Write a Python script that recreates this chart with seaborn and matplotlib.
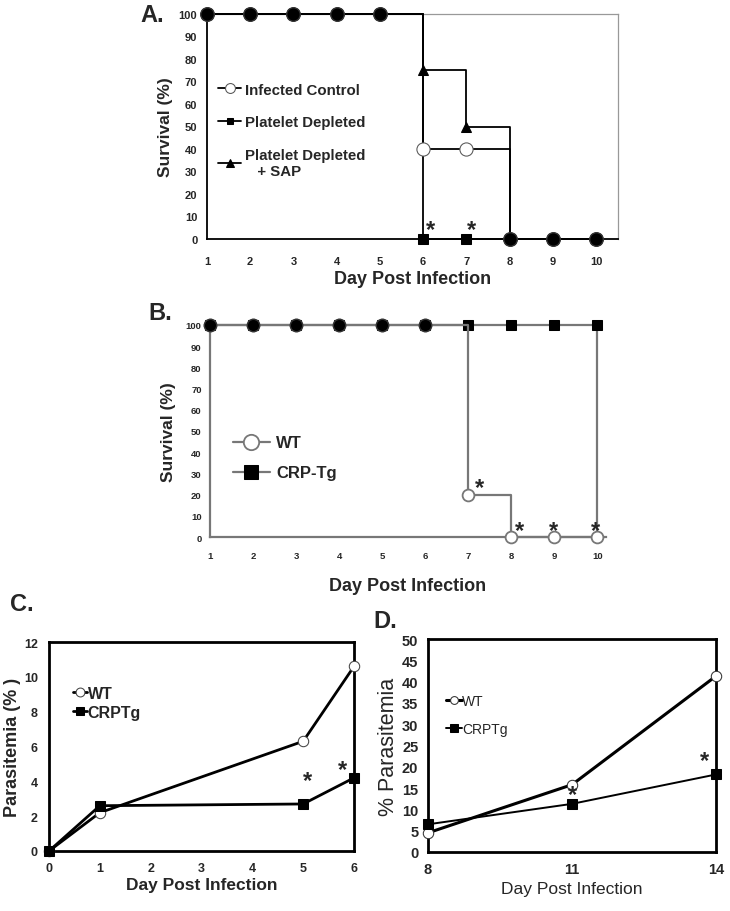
import matplotlib
matplotlib.use("Agg")
import matplotlib.pyplot as plt
import numpy as np
import pandas as pd
import seaborn as sns

sns.set_theme(style="white")
plt.rcParams['font.family'] = ['Liberation Sans', 'DejaVu Sans']

# Panel A: survival after platelet depletion
days_a = [1, 2, 3, 4, 5, 6, 7, 8, 9, 10]
infected_control = [100, 100, 100, 100, 100, 40, 40, 0, 0, 0]
platelet_depleted = [100, 100, 100, 100, 100, 0, 0, 0, 0, 0]
platelet_sap = [100, 100, 100, 100, 100, 75, 50, 0, 0, 0]
stars_a_x = [6.16, 7.13]
stars_a_y = [5.8, 5.8]

# Panel B: survival WT vs CRP-Tg
days_b = [1, 2, 3, 4, 5, 6, 7, 8, 9, 10]
wt_b = [100, 100, 100, 100, 100, 100, 20, 0, 0, 0]
crp_tg_b = [100, 100, 100, 100, 100, 100, 100, 100, 100, 100]
stars_b_x = [7.26, 8.2, 8.98, 9.95]
stars_b_y = [25, 5, 5, 5]

# Panel C: parasitemia early
days_c = [0, 1, 5, 6]
wt_c = [0, 2.2, 6.3, 10.6]
crptg_c = [0, 2.6, 2.7, 4.2]
stars_c_x = [5.08, 5.77]
stars_c_y = [4.25, 4.9]

# Panel D: parasitemia late
days_d = [8, 11, 14]
wt_d = [4.5, 15.8, 41.3]
crptg_d = [6.5, 11.3, 18.2]
stars_d_x = [11.0, 13.77]
stars_d_y = [14.3, 22.3]

fig = plt.figure(figsize=(7.3, 9.12), dpi=100)
fig.patch.set_facecolor('white')


def overlap_mask(base, *others):
    base = np.asarray(base)
    m = np.ones(len(base), dtype=bool)
    for o in others:
        m &= (np.asarray(o) == base)
    return m


def add_stars(ax, xs, ys):
    # star glyph sits high in its box, so pull it down to centre on (x, y)
    for x, y in zip(xs, ys):
        ax.annotate('*', (x, y), xytext=(0, -11), textcoords='offset points',
                    fontsize=17, fontweight='bold', ha='center', va='bottom')


# ---------------- Panel A ----------------
axA = fig.add_axes([207 / 730, 1 - 240 / 912, 411 / 730, 225 / 912])
dfA = pd.DataFrame({'day': days_a, 'ic': infected_control, 'pd': platelet_depleted, 'sap': platelet_sap})
sns.lineplot(data=dfA, x='day', y='pd', ax=axA, color='black', lw=1.3, drawstyle='steps-post',
             marker='s', markersize=6.5, markerfacecolor='black', markeredgecolor='black',
             clip_on=False, zorder=3, label='Platelet Depleted')
sns.lineplot(data=dfA, x='day', y='sap', ax=axA, color='black', lw=1.3, drawstyle='steps-post',
             marker='^', markersize=7, markerfacecolor='black', markeredgecolor='black',
             clip_on=False, zorder=3, label='Platelet Depleted\n   + SAP')
sns.lineplot(data=dfA, x='day', y='ic', ax=axA, color='black', lw=1.3, drawstyle='steps-post',
             marker='o', markersize=9.5, markerfacecolor='white', markeredgecolor='#555555',
             clip_on=False, zorder=4, label='Infected Control')
mA = overlap_mask(infected_control, platelet_depleted, platelet_sap)
axA.scatter(np.array(days_a)[mA], np.array(infected_control)[mA], s=95, color='black',
            edgecolor='#333333', zorder=5, clip_on=False)
add_stars(axA, stars_a_x, stars_a_y)
axA.set_xlim(1, 10.51)
axA.set_ylim(0, 100)
axA.set_xticks(days_a)
axA.set_yticks(range(0, 101, 10))
axA.tick_params(labelsize=8, length=3, width=1, direction='out', color='black', pad=4)
for lab in axA.get_xticklabels() + axA.get_yticklabels():
    lab.set_fontweight('bold')
axA.tick_params(axis='x', pad=9)
for s in ['left', 'bottom']:
    axA.spines[s].set_color('black')
    axA.spines[s].set_linewidth(1.3)
for s in ['top', 'right']:
    axA.spines[s].set_color('#999999')
    axA.spines[s].set_linewidth(0.9)
axA.set_xlabel('Day Post Infection', fontsize=13, fontweight='bold', labelpad=3)
axA.set_ylabel('Survival (%)', fontsize=12.5, fontweight='bold', labelpad=4)
h, l = axA.get_legend_handles_labels()
order = [l.index('Infected Control'), l.index('Platelet Depleted'), l.index('Platelet Depleted\n   + SAP')]
axA.legend([h[i] for i in order], [l[i] for i in order], loc='upper left', bbox_to_anchor=(-0.005, 0.755),
           frameon=False, prop={'weight': 'bold', 'size': 10.8}, handlelength=1.5, handletextpad=0.3,
           labelspacing=1.25, markerscale=0.75)
fig.text(140 / 730, 1 - 15 / 912, 'A.', fontsize=17, fontweight='bold', va='center', ha='left')

# ---------------- Panel B ----------------
gray = '#777777'
axB = fig.add_axes([210 / 730, 1 - 538 / 912, 396 / 730, 212 / 912])
dfB = pd.DataFrame({'day': days_b, 'wt': wt_b, 'crp': crp_tg_b})
sns.lineplot(data=dfB, x='day', y='crp', ax=axB, color=gray, lw=1.6, drawstyle='steps-post',
             marker='s', markersize=7.5, markerfacecolor='black', markeredgecolor='black',
             clip_on=False, zorder=3, label='CRP-Tg')
axB.vlines(days_b[-1], 0, crp_tg_b[-1], color=gray, lw=1.6, zorder=2)
sns.lineplot(data=dfB, x='day', y='wt', ax=axB, color=gray, lw=1.6, drawstyle='steps-post',
             marker='o', markersize=8.5, markerfacecolor='white', markeredgecolor=gray,
             markeredgewidth=1.3, clip_on=False, zorder=4, label='WT')
mB = overlap_mask(wt_b, crp_tg_b)
axB.scatter(np.array(days_b)[mB], np.array(wt_b)[mB], s=80, color='black',
            edgecolor='#333333', zorder=5, clip_on=False)
add_stars(axB, stars_b_x, stars_b_y)
axB.set_xlim(1, 10.2)
axB.set_ylim(0, 100)
axB.set_xticks(days_b)
axB.set_yticks(range(0, 101, 10))
axB.tick_params(labelsize=6.8, length=3, width=1, direction='out', color=gray, pad=3)
axB.tick_params(axis='x', pad=7)
for lab in axB.get_xticklabels() + axB.get_yticklabels():
    lab.set_fontweight('bold')
for s in ['left', 'bottom']:
    axB.spines[s].set_color(gray)
    axB.spines[s].set_linewidth(1.6)
for s in ['top', 'right']:
    axB.spines[s].set_visible(False)
axB.set_xlabel('Day Post Infection', fontsize=13, fontweight='bold', labelpad=12)
axB.set_ylabel('Survival (%)', fontsize=12.5, fontweight='bold', labelpad=7)
h, l = axB.get_legend_handles_labels()
axB.legend([h[1], h[0]], [l[1], l[0]], loc='upper left', bbox_to_anchor=(0.02, 0.55),
           frameon=False, prop={'weight': 'bold', 'size': 12}, handlelength=2.2, handletextpad=0.4,
           labelspacing=0.9, markerscale=1.3)
fig.text(148 / 730, 1 - 313 / 912, 'B.', fontsize=17, fontweight='bold', va='center', ha='left')

# ---------------- Panel C ----------------
axC = fig.add_axes([49 / 730, 1 - 852 / 912, 305 / 730, 209 / 912])
dfC = pd.DataFrame({'day': days_c, 'wt': wt_c, 'crp': crptg_c})
sns.lineplot(data=dfC, x='day', y='wt', ax=axC, color='black', lw=2.0,
             marker='o', markersize=7.5, markerfacecolor='white', markeredgecolor='#444444',
             clip_on=False, zorder=3, label='WT')
sns.lineplot(data=dfC, x='day', y='crp', ax=axC, color='black', lw=2.0,
             marker='s', markersize=7, markerfacecolor='black', markeredgecolor='black',
             clip_on=False, zorder=4, label='CRPTg')
add_stars(axC, stars_c_x, stars_c_y)
axC.set_xlim(0, 6)
axC.set_ylim(0, 12)
axC.set_xticks(range(0, 7))
axC.set_yticks(range(0, 13, 2))
axC.tick_params(labelsize=9, length=4, width=1.2, direction='out', color='black', pad=4)
for lab in axC.get_xticklabels() + axC.get_yticklabels():
    lab.set_fontweight('bold')
for s in axC.spines.values():
    s.set_color('black')
    s.set_linewidth(2.0)
axC.set_xlabel('Day Post Infection', fontsize=12.5, fontweight='bold', labelpad=2)
axC.set_ylabel('Parasitemia (% )', fontsize=13, fontweight='bold')
axC.yaxis.set_label_coords(-0.092, 0.5)
axC.legend(loc='upper left', bbox_to_anchor=(0.03, 0.86), frameon=False,
           prop={'weight': 'bold', 'size': 11.5}, handlelength=0.9,
           handletextpad=0.05, labelspacing=0.25, markerscale=0.85)
fig.text(10 / 730, 1 - 605 / 912, 'C.', fontsize=17, fontweight='bold', va='center', ha='left')

# ---------------- Panel D ----------------
axD = fig.add_axes([428 / 730, 1 - 853 / 912, 288 / 730, 213 / 912])
dfD = pd.DataFrame({'day': days_d, 'wt': wt_d, 'crp': crptg_d})
sns.lineplot(data=dfD, x='day', y='wt', ax=axD, color='black', lw=2.2,
             marker='o', markersize=7.5, markerfacecolor='white', markeredgecolor='#333333',
             clip_on=False, zorder=3, label='WT')
sns.lineplot(data=dfD, x='day', y='crp', ax=axD, color='black', lw=1.4,
             marker='s', markersize=7, markerfacecolor='black', markeredgecolor='black',
             clip_on=False, zorder=4, label='CRPTg')
add_stars(axD, stars_d_x, stars_d_y)
axD.set_xlim(8, 14)
axD.set_ylim(0, 50)
axD.set_xticks(days_d)
axD.set_yticks(range(0, 51, 5))
axD.tick_params(labelsize=10.5, length=4, width=1.2, direction='out', color='black', pad=3)
for lab in axD.get_xticklabels() + axD.get_yticklabels():
    lab.set_fontweight('bold')
for s in axD.spines.values():
    s.set_color('black')
    s.set_linewidth(2.0)
axD.set_xlabel('Day Post Infection', fontsize=12.5, labelpad=4)
axD.set_ylabel('% Parasitemia', fontsize=15.5, labelpad=2)
axD.legend(loc='upper left', bbox_to_anchor=(0.02, 0.8), frameon=False,
           prop={'size': 10}, handlelength=1.1,
           handletextpad=0.05, labelspacing=1.0, markerscale=0.75)
fig.text(373 / 730, 1 - 622 / 912, 'D.', fontsize=17, fontweight='bold', va='center', ha='left')

fig.savefig('out.png', dpi=100, facecolor='white')
